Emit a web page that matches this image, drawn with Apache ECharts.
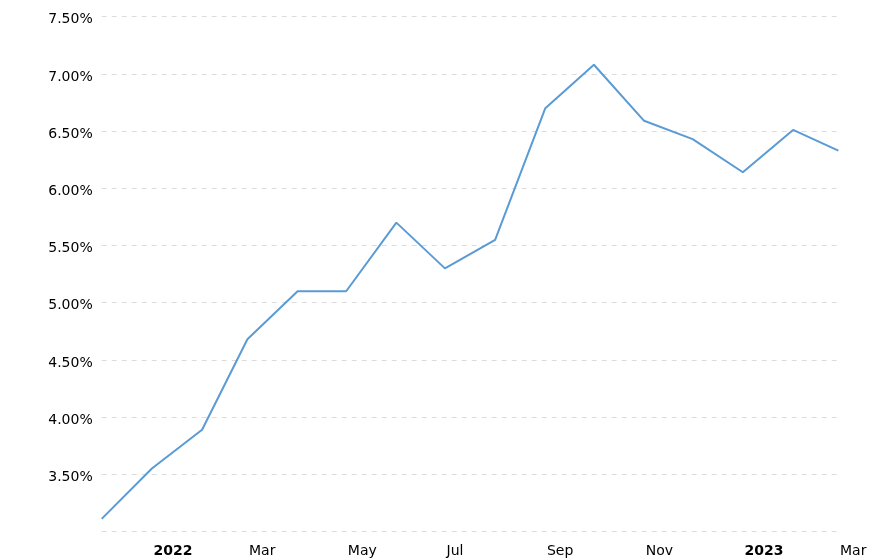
<!DOCTYPE html>
<html>
<head>
<meta charset="utf-8">
<script src="https://cdn.jsdelivr.net/npm/echarts@6/dist/echarts.min.js"></script>
<style>
  html, body { margin: 0; padding: 0; background: #fff; }
  #chart { width: 888px; height: 560px; }
</style>
</head>
<body>
<div id="chart"></div>
<script>
// month-end readings
const dates = [
  '2021-11-30', '2021-12-31', '2022-01-31', '2022-02-28', '2022-03-31', '2022-04-30',
  '2022-05-31', '2022-06-30', '2022-07-31', '2022-08-31', '2022-09-30', '2022-10-31',
  '2022-11-30', '2022-12-31', '2023-01-31', '2023-02-28'
]
const rates = [3.11, 3.55, 3.89, 4.68, 5.10, 5.10, 5.70, 5.30, 5.55, 6.70, 7.08, 6.59, 6.43, 6.14, 6.51, 6.33]
const axisStart = '2021-11-30'
const axisEnd = '2023-03-01'

const chart = echarts.init(document.getElementById('chart'))

chart.setOption({
  animation: false,
  textStyle: { fontFamily: 'DejaVu Sans' },
  grid: {
    left: 101.7,
    right: 48,
    top: 16.7,
    bottom: 28.5
  },
  xAxis: {
    type: 'time',
    min: axisStart,
    max: axisEnd,
    splitNumber: 6,
    axisLine: { show: false },
    axisTick: { show: false },
    splitLine: { show: false },
    axisLabel: {
      align: 'left',
      margin: 13,
      color: '#000',
      fontSize: 14,
      showMinLabel: false,
      formatter: {
        year: '{yr|{yyyy}}',
        month: '{MMM}'
      },
      rich: {
        yr: { fontWeight: 'bold', fontSize: 14, color: '#000' }
      }
    }
  },
  yAxis: {
    type: 'value',
    min: 3,
    max: 7.5,
    interval: 0.5,
    axisLine: { show: false },
    axisTick: { show: false },
    splitLine: {
      lineStyle: { color: '#dcdcdc', type: [5, 5], width: 1 }
    },
    axisLabel: {
      showMinLabel: false,
      color: '#000',
      fontSize: 14,
      margin: 9,
      verticalAlign: 'top',
      lineHeight: 6,
      formatter: v => v.toFixed(2) + '%'
    }
  },
  series: [
    {
      type: 'line',
      data: dates.map((d, i) => [d, rates[i]]),
      showSymbol: false,
      lineStyle: { color: '#5b9bd5', width: 2 },
      itemStyle: { color: '#5b9bd5' }
    }
  ]
})
</script>
</body>
</html>
